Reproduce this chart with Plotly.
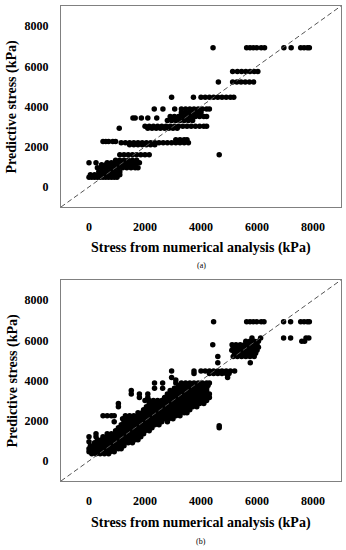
import plotly.graph_objects as go

# ---------------- data ----------------
# Panel (a): predicted stress levels (kPa) and the numerical-analysis stresses (kPa) at each level
a_levels = [480, 600, 750, 950, 1100, 1200, 1320, 1600, 2100, 2200, 2260, 2350,
            2920, 3020, 3300, 3430, 3500, 3700, 3870, 4460, 5220, 5740, 6920]
a_stress = [
    [0, 100, 200, 300, 400, 500, 600, 700, 800, 900, 1000],
    [50, 200, 350, 500, 650, 800, 950, 1100],
    [350, 500, 650, 800, 950, 1100],
    [300, 450, 600, 750, 900, 1050, 1200, 1350, 1500, 1650, 1750],
    [450, 600, 750, 900, 1050, 1200, 1350, 1500, 1650],
    [0, 250, 650, 800, 950, 1100, 1250, 1400, 1550, 1700, 1800],
    [950, 1100, 1250, 1400, 1550, 1700],
    [1100, 1250, 1400, 1550, 1700, 1850, 2000, 2150, 4650],
    [1450, 1600, 1750, 1900, 2050, 2200, 2350],
    [1150, 1300, 1450, 1600, 1750, 1900, 2050, 2200, 2350, 2500, 2650, 2800, 2950, 3100, 3250, 3400, 3550],
    [500, 600, 700, 850, 950],
    [3100, 3250, 3400, 3500],
    [1080, 2100, 2250, 2400, 2550, 2700, 2850, 3000, 3150],
    [2000, 2150, 2300, 2450, 2600, 2750, 2900, 3050, 3200, 3350, 3500, 3650, 3800, 3950, 4100, 4200],
    [2800, 2950, 3100, 3250, 3400, 3550, 3700],
    [1570, 1650, 1870, 2100, 2420],
    [2900, 3050, 3200, 3350, 3500, 3650, 3800, 3950, 4100, 4200],
    [3300, 3450, 3600, 3750, 3900, 4000],
    [2330, 2640, 3060, 3300, 3450, 3600, 3750, 3900, 4050, 4200, 4300],
    [2950, 3730, 4000, 4150, 4300, 4450, 4600, 4750, 4900, 5050, 5170],
    [4620, 5130, 5280, 5430, 5580, 5730, 5880],
    [5130, 5300, 5450, 5600, 5750, 5900, 6030],
    [4430, 5630, 5750, 5870, 5990, 6150, 6270, 6960, 7220, 7560, 7680, 7800, 7870],
]

# Panel (b)
b_levels = [350, 450, 600, 750, 900, 950, 1050, 1200, 1350, 1500, 1650, 1750, 1800, 1950,
            2100, 2250, 2400, 2550, 2700, 2850, 3000, 3150, 3330, 3500, 3620, 3750, 3880,
            4020, 4150, 4350, 4470, 4880, 5200, 5350, 5500, 5650, 5780, 5950, 6120, 6920]
b_stress = [
    [100, 250, 400, 550, 700],
    [0, 150, 300, 450, 600, 750, 900],
    [0, 150, 300, 450, 600, 750, 900, 1050, 1150],
    [50, 200, 350, 500, 650, 800, 950, 1100, 1250],
    [200, 350, 500, 650, 800, 950, 1100, 1250, 1400, 1550],
    [0],
    [300, 450, 600, 750, 900, 1050, 1200, 1350, 1500, 1650, 1750],
    [0, 250, 500, 650, 800, 950, 1100, 1250, 1400, 1550, 1700, 1850],
    [250, 650, 800, 950, 1100, 1250, 1400, 1550, 1700, 1850, 1950],
    [950, 1100, 1250, 1400, 1550, 1700, 1850, 2000, 2150],
    [1050, 1200, 1350, 1500, 1650, 1800, 1950, 2100, 2250, 4650],
    [4650],
    [1150, 1300, 1450, 1600, 1750, 1900, 2050, 2200, 2350, 2500],
    [900, 1250, 1400, 1550, 1700, 1850, 2000, 2150, 2300, 2450, 2600, 2800],
    [1200, 1350, 1500, 1650, 1800, 1950, 2100, 2250, 2400, 2550, 2700, 2850, 3000],
    [500, 650, 800, 900, 1300, 1450, 1600, 1750, 1900, 2050, 2200, 2350, 2500, 2650, 2800, 2950, 3100, 3250],
    [1750, 1900, 2050, 2200, 2350, 2500, 2650, 2800, 2950, 3100, 3250, 3400, 3500],
    [1950, 2100, 2250, 2400, 2550, 2700, 2850, 3000, 3150, 3300, 3450, 3600],
    [1050, 2050, 2200, 2350, 2500, 2650, 2800, 2950, 3100, 3250, 3400, 3550, 3700, 3850],
    [1050, 2150, 2300, 2450, 2600, 2750, 2900, 3050, 3200, 3350, 3500, 3650, 3800, 3950, 4100],
    [2000, 2150, 2300, 2450, 2600, 2750, 2900, 3050, 3200, 3350, 3500, 3650, 3800, 3950, 4100, 4200],
    [1800, 2100, 2700, 2850, 3000, 3150, 3300, 3450, 3600, 3750, 3900, 4050, 4200, 4300],
    [1510, 1800, 2100, 2800, 2950, 3100, 3250, 3400, 3550, 3700, 3850, 4000, 4150, 4300],
    [1510, 2900, 3050, 3200, 3350, 3500, 3650, 3800, 3950, 4100, 4200],
    [2340, 2630, 3050, 3200, 3350, 3500, 3650, 3800, 3950, 4100, 4200],
    [3200, 3350, 3500, 3650, 3800, 3950, 4100, 4250],
    [2340, 2630, 3100, 3300, 3450, 3600, 3750, 3900, 4050, 4200, 4300],
    [3100],
    [2950, 4950],
    [3750, 4300, 4450, 4600, 4750, 4900, 5000],
    [2950, 3750, 4000, 4150, 4300, 4450, 4600, 4750, 4900, 5050, 5200],
    [4600, 5760],
    [4600, 5150, 5300, 5450, 5600, 5750, 5900],
    [5200, 5350, 5500, 5650, 5800, 5950],
    [5100, 5250, 5400, 5550, 5700, 5850, 6000],
    [5150, 5300, 5450, 5600, 5750, 5900, 6050],
    [4420, 5110, 5250, 5400, 5550, 5700, 5850, 6000],
    [5600, 5750, 5900, 6050, 7600, 7700],
    [5820, 6130, 6950, 7200, 7750, 7850],
    [4450, 5630, 5750, 5870, 5990, 6150, 6250, 6950, 7200, 7560, 7680, 7800, 7870],
]

tick_vals = [0, 2000, 4000, 6000, 8000]
tick_text = ["0", "2000", "4000", "6000", "8000"]
axis_range = [-1000, 9000]
x_title = "Stress from numerical analysis (kPa)"
y_title = "Predictive stress (kPa)"
panel_labels = ["(a)", "(b)"]


def flatten(levels, stress):
    xs, ys = [], []
    for lvl, row in zip(levels, stress):
        for s in row:
            xs.append(s)
            ys.append(lvl)
    return xs, ys


W, H = 346, 550
FONT = "Liberation Serif, Times New Roman, serif"

fig = go.Figure()

panels = [(a_levels, a_stress, "x", "y"), (b_levels, b_stress, "x2", "y2")]
for levels, stress, xa, ya in panels:
    xs, ys = flatten(levels, stress)
    fig.add_trace(go.Scatter(x=xs, y=ys, mode="markers", xaxis=xa, yaxis=ya,
                             marker=dict(color="black", size=5.5, line=dict(width=0)),
                             showlegend=False, hoverinfo="skip"))
    fig.add_trace(go.Scatter(x=axis_range, y=axis_range, mode="lines", xaxis=xa, yaxis=ya,
                             line=dict(color="#555555", width=1, dash="5px,3px"),
                             showlegend=False, hoverinfo="skip"))

x_dom = [61 / W, 341 / W]
top_dom = [1 - 207 / H, 1 - 6 / H]
bot_dom = [1 - 481 / H, 1 - 280 / H]

common = dict(range=axis_range, tickvals=tick_vals, ticktext=tick_text,
              showgrid=False, zeroline=False, showline=True, mirror=True,
              linecolor="#808080", linewidth=1, ticks="",
              tickfont=dict(family=FONT, size=12, color="black", weight="bold"))

fig.update_layout(
    width=W, height=H,
    margin=dict(l=0, r=0, t=0, b=0),
    paper_bgcolor="white", plot_bgcolor="white",
    xaxis=dict(domain=x_dom, anchor="y", ticklabelstandoff=9, **common),
    yaxis=dict(domain=top_dom, anchor="x", ticklabelstandoff=9, **common),
    xaxis2=dict(domain=x_dom, anchor="y2", ticklabelstandoff=9, **common),
    yaxis2=dict(domain=bot_dom, anchor="x2", ticklabelstandoff=9, **common),
)

title_font = dict(family=FONT, size=14, color="black", weight="bold")
label_font = dict(family=FONT, size=8, color="black")
xc = (x_dom[0] + x_dom[1]) / 2
annots = []
for dom, xt_y, lab_y, lab in [(top_dom, 248, 265, panel_labels[0]), (bot_dom, 523, 541, panel_labels[1])]:
    annots.append(dict(text=x_title, x=xc, y=1 - xt_y / H, xref="paper", yref="paper",
                       showarrow=False, font=title_font, xanchor="center", yanchor="middle"))
    annots.append(dict(text=y_title, x=12 / W, y=(dom[0] + dom[1]) / 2, xref="paper", yref="paper",
                       showarrow=False, font=title_font, textangle=-90,
                       xanchor="center", yanchor="middle"))
    annots.append(dict(text=lab, x=xc, y=1 - lab_y / H, xref="paper", yref="paper",
                       showarrow=False, font=label_font, xanchor="center", yanchor="middle"))
fig.update_layout(annotations=annots)

fig.write_html("out.html", config={"displayModeBar": False},
               post_script="document.body.style.margin='0px';")
